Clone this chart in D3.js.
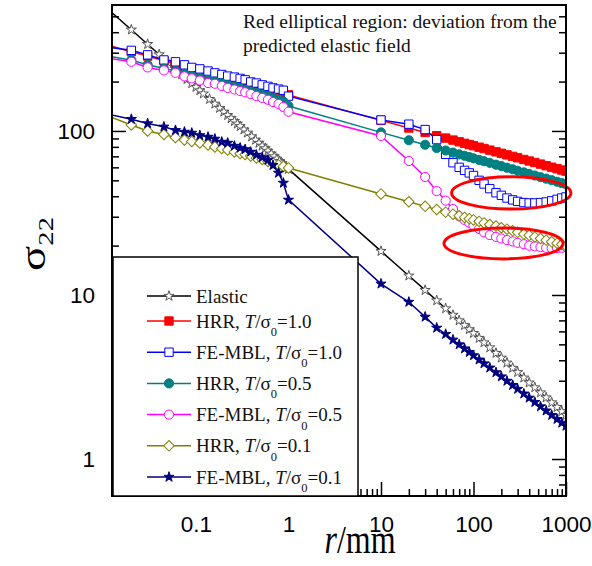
<!DOCTYPE html>
<html><head><meta charset="utf-8">
<script src="https://cdn.jsdelivr.net/npm/d3@7"></script>
<style>body{margin:0;background:#fff;}svg{display:block;}</style>
</head><body>
<script>
// ---------- data ----------
const r = [0.011,0.02,0.03,0.045,0.06,0.075,0.09,0.11,0.135,0.16,0.19,0.22,0.26,0.3,0.34,0.39,0.45,0.52,0.6,0.68,0.78,0.88,1.0,
           10,20,30,40,50,60,70,80,90,100,115,130,150,175,200,230,265,300,350,400,460,530,610,700,800,900,1000];
const rElastic = [0.011,0.02,0.03,0.04,0.05,0.06,0.07,0.08,0.09,0.1,0.11,0.12,0.14,0.16,0.18,0.2,0.22,0.24,0.26,0.28,0.3,0.33,0.36,0.4,
           0.44,0.48,0.52,0.56,0.6,0.65,0.7,0.75,0.8,0.85,0.9,0.95,1.0,
           10,20,30,40,50,60,70,80,90,100,115,130,150,175,200,230,265,300,350,400,460,530,610,700,800,900,1000];
const elastic = [558,414,338,292.5,261.6,238.8,221.1,206.8,195,185,176.4,168.9,156.3,146.3,137.9,130.8,124.7,119.4,114.7,110.6,106.8,101.8,97.5,92.5,
  88.2,84.4,81.1,78.2,75.5,72.6,69.9,67.6,65.4,63.5,61.7,60.0,58.5,
  18.5,13.1,10.7,9.25,8.27,7.55,6.99,6.54,6.17,5.85,5.46,5.13,4.78,4.42,4.14,3.86,3.59,3.38,3.13,2.92,2.73,2.54,2.37,2.21,2.07,1.95,1.85];
const hrr10 = [334,304,286,268,257,248,241,234,226,220,215,210,205,200,196,192,188,184,180,176,172,169,166,
  116,104.2,97.9,93.6,90.5,88.0,85.9,84.1,82.6,81.3,79.6,78.1,76.4,74.6,73.1,71.5,70.0,68.6,67.0,65.6,64.2,62.8,61.4,60.1,58.9,57.8,56.9];
const fe10 = [324,310,291,271,264,253,244,239,232,226,221,216,213,209,205,199,196,191,187,183,180,177,163,
  116.7,110,102,88.5,72,64,60,57.5,55.5,53.5,50,47.5,44.5,42,40.5,39.0,38.0,37.2,36.6,36.4,36.4,36.6,36.9,37.5,38.3,39.0,39.6];
const hrr05 = [287,270,253,240,232,223,216,210,204,200,195,190,186,182,178,174,170,166,162,159,155,151,142,
  98,87.8,82.4,78.7,76.0,73.8,72.0,70.6,69.3,68.1,66.6,65.4,63.9,62.3,61.1,59.7,58.4,57.2,55.9,54.7,53.5,52.3,51.2,50.1,49.0,48.1,47.3];
const fe05 = [278,264,244,234,226,215,209,203,196,194,188,183,179,175,172,168,163,159,155,150,146,140,131,
  93.2,65.6,52.4,43,37.6,33.4,30.2,28.7,27.6,26.5,25.3,24.1,23.2,22.6,22.1,21.6,21.2,20.8,20.4,20.0,19.8,19.6,19.4,19.3,19.3,19.4,19.6];
const hrr01 = [124,108.8,100,95.2,91.3,88.1,86.3,84.5,82.2,79.9,78.2,76.6,74.5,72.9,71.9,70.4,68.5,67.0,65.2,63.8,62.1,60.8,59.5,
  41.3,37.0,34.7,33.2,32.0,31.1,30.4,29.7,29.2,28.7,28.1,27.5,26.9,26.3,25.7,25.2,24.6,24.1,23.5,23.1,22.6,22.1,21.6,21.1,20.7,20.3,19.9];
const fe01 = [127,118,111,106,101,98.6,97.2,94.0,91.9,89.4,85.7,84.5,81.0,78.8,77.2,74.5,71.4,68.9,66.5,61.8,55.5,48.2,38.0,
  11.7,9.06,7.35,6.3,5.77,5.33,4.99,4.71,4.48,4.28,4.03,3.82,3.60,3.37,3.18,2.99,2.82,2.67,2.50,2.36,2.22,2.09,1.97,1.85,1.75,1.66,1.59];

const seriesNames = ["Elastic","HRR","FE-MBL","HRR","FE-MBL","HRR","FE-MBL"];
const seriesT = [null,"1.0","1.0","0.5","0.5","0.1","0.1"];
const seriesColors = ["#000000","#ff0000","#0000ff","#008080","#ff00ff","#808000","#000080"];
const seriesMarkers = ["star","square","squareOpen","circle","circleOpen","diamondOpen","starFilled"];
const seriesR = [rElastic,r,r,r,r,r,r];
const seriesValues = [elastic,hrr10,fe10,hrr05,fe05,hrr01,fe01];

const xTickLabels = [0.1,1,10,100,1000];
const yTickLabels = [1,10,100];
const annotationLines = ["Red elliptical region: deviation from the","predicted elastic field"];
// ellipse annotations: data extents [rMin, rMax, sMin, sMax]
const ellipses = [[58,1130,33.4,52.5],[48,930,16.6,25.6]];

// ---------- layout ----------
const W=592,H=566;
const L=112,R=566,T=5,B=496;
const svg = d3.select("body").append("svg").attr("width",W).attr("height",H);
const x = d3.scaleLog().domain([0.01236,1000]).range([L,R]);
const y = d3.scaleLog().domain([0.595,586]).range([B,T]);

svg.append("defs").append("clipPath").attr("id","clip")
  .append("rect").attr("x",L).attr("y",T).attr("width",R-L).attr("height",B-T);

// ticks
const minorX = x.ticks().filter(v=>!xTickLabels.some(m=>Math.abs(m-v)/m<1e-6));
const minorY = y.ticks().filter(v=>!yTickLabels.some(m=>Math.abs(m-v)/m<1e-6));
function clean(g){g.select(".domain").remove();}
svg.append("g").attr("transform",`translate(0,${B})`).call(d3.axisTop(x).tickValues(xTickLabels).tickSize(14).tickFormat("")).call(clean);
svg.append("g").attr("transform",`translate(0,${B})`).call(d3.axisTop(x).tickValues(minorX).tickSize(7).tickFormat("")).call(clean);
svg.append("g").attr("transform",`translate(${L},0)`).call(d3.axisRight(y).tickValues(yTickLabels).tickSize(14).tickFormat("")).call(clean);
svg.append("g").attr("transform",`translate(${L},0)`).call(d3.axisRight(y).tickValues(minorY).tickSize(7).tickFormat("")).call(clean);
svg.append("g").attr("transform",`translate(${R},0)`).call(d3.axisLeft(y).tickValues(yTickLabels).tickSize(14).tickFormat("")).call(clean);
svg.append("g").attr("transform",`translate(${R},0)`).call(d3.axisLeft(y).tickValues(minorY).tickSize(7).tickFormat("")).call(clean);
svg.selectAll(".tick line").attr("stroke","#000").attr("stroke-width",1.5);

const fmt = d=>String(d);
const gxl = svg.append("g").attr("transform",`translate(0,${B})`)
  .call(d3.axisBottom(x).tickValues(xTickLabels).tickSize(0).tickPadding(20).tickFormat(fmt)).call(clean);
const gyl = svg.append("g").attr("transform",`translate(${L},0)`)
  .call(d3.axisLeft(y).tickValues(yTickLabels).tickSize(0).tickPadding(17).tickFormat(fmt)).call(clean);
[gxl,gyl].forEach(g=>g.selectAll("text").attr("font-family","'Liberation Sans',Arial,sans-serif").attr("font-size",22.5).attr("fill","#000"));

// series
const plot = svg.append("g").attr("clip-path","url(#clip)");
function markerPath(kind){
  if(kind==="star"||kind==="starFilled") return d3.symbol().type(d3.symbolStar).size(32)();
  if(kind==="square"||kind==="squareOpen") return d3.symbol().type(d3.symbolSquare).size(70)();
  if(kind==="circle"||kind==="circleOpen") return d3.symbol().type(d3.symbolCircle).size(66)();
  if(kind==="diamondOpen") return d3.symbol().type(d3.symbolSquare).size(56)();
}
function markerStyle(sel,kind,color){
  const filled = (kind==="square"||kind==="circle"||kind==="starFilled");
  sel.attr("d",markerPath(kind))
    .attr("fill", filled?color:"#fff")
    .attr("stroke", kind==="star"?"#555":color)
    .attr("stroke-width",1);
}
const line = d3.line().x(d=>x(d[0])).y(d=>y(d[1]));
seriesValues.forEach((vals,i)=>{
  const pts = seriesR[i].map((rv,j)=>[rv,vals[j]]);
  const g = plot.append("g");
  g.append("path").datum(pts).attr("d",line).attr("fill","none")
    .attr("stroke",seriesColors[i]).attr("stroke-width",1.5);
  g.selectAll("path.m").data(pts).join("path").attr("class","m")
    .each(function(d){
      const s=d3.select(this);
      markerStyle(s,seriesMarkers[i],seriesColors[i]);
      s.attr("transform",`translate(${x(d[0])},${y(d[1])})`+(seriesMarkers[i]==="diamondOpen"?" rotate(45)":""));
    });
});

// ellipses
svg.append("g").selectAll("ellipse").data(ellipses).join("ellipse")
  .attr("cx",d=>(x(d[0])+x(d[1]))/2).attr("cy",d=>(y(d[2])+y(d[3]))/2)
  .attr("rx",d=>(x(d[1])-x(d[0]))/2).attr("ry",d=>(y(d[2])-y(d[3]))/2)
  .attr("fill","none").attr("stroke","#ff0000").attr("stroke-width",3);

// frame
svg.append("rect").attr("x",L).attr("y",T).attr("width",R-L).attr("height",B-T)
  .attr("fill","none").attr("stroke","#000").attr("stroke-width",2);

// annotation
const ann = svg.append("text").attr("font-family","'Liberation Serif','Times New Roman',serif").attr("font-size",19.5).attr("fill","#111");
annotationLines.forEach((t,i)=>ann.append("tspan").attr("x",243).attr("y",28+i*24).text(t));

// legend
const lg = svg.append("g");
lg.append("rect").attr("x",113).attr("y",257).attr("width",245).attr("height",239)
  .attr("fill","#fff").attr("stroke","#000").attr("stroke-width",1.5);
seriesNames.forEach((name,i)=>{
  const cy = i===0?296:321+(i-1)*31.2;
  lg.append("line").attr("x1",147).attr("x2",191).attr("y1",cy).attr("y2",cy)
    .attr("stroke",seriesColors[i]).attr("stroke-width",1.5);
  const m = lg.append("path");
  markerStyle(m,seriesMarkers[i],seriesColors[i]);
  m.attr("transform",`translate(169,${cy})`+(seriesMarkers[i]==="diamondOpen"?" rotate(45)":""));
  const t = lg.append("text").attr("x",196).attr("y",cy+6.5)
    .attr("font-family","'Liberation Serif','Times New Roman',serif").attr("font-size",19).attr("fill","#111");
  if(seriesT[i]===null){ t.text(name); }
  else{
    t.append("tspan").text(name+", ");
    t.append("tspan").attr("font-style","italic").text("T");
    t.append("tspan").text("/σ");
    t.append("tspan").attr("font-size",12.5).attr("dy",8.5).text("0");
    t.append("tspan").attr("dy",-8.5).text("="+seriesT[i]);
  }
});

// axis titles
const xt = svg.append("text").attr("transform","translate(360,553) scale(1,1.25)").attr("text-anchor","middle")
  .attr("font-family","'Liberation Serif','Times New Roman',serif").attr("font-size",32).attr("fill","#000");
xt.append("tspan").attr("font-style","italic").text("r");
xt.append("tspan").text("/mm");
const yt = svg.append("text").attr("transform","translate(45,244) rotate(-90) scale(1.3,1)").attr("text-anchor","middle")
  .attr("font-family","'Liberation Serif','Times New Roman',serif").attr("font-size",36).attr("fill","#000");
yt.append("tspan").text("σ");
yt.append("tspan").attr("font-size",22).attr("dy",8).text("22");
</script>
</body></html>
